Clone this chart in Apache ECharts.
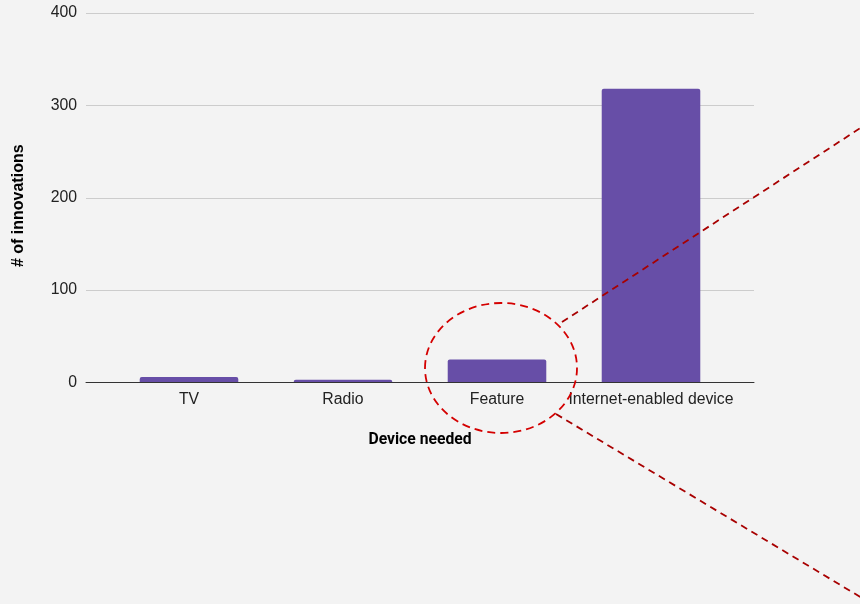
<!DOCTYPE html>
<html>
<head>
<meta charset="utf-8">
<script src="https://cdn.jsdelivr.net/npm/echarts@6/dist/echarts.min.js"></script>
<style>
  html, body { margin: 0; padding: 0; background: #f3f3f3; }
  #chart { width: 860px; height: 604px; }
</style>
</head>
<body>
<div id="chart"></div>
<script>
// Innovations by the device they need
const categories = ['TV', 'Radio', 'Feature', 'Internet-enabled device'];
const innovations = [6, 3, 25, 318];
const yTicks = [0, 100, 200, 300, 400];

const yMin = yTicks[0];
const yMax = yTicks[yTicks.length - 1];
const labelFont = { fontFamily: 'Liberation Sans, Arial', fontSize: 15.8, color: '#222' };

const chart = echarts.init(document.getElementById('chart'));

chart.setOption({
  backgroundColor: '#f3f3f3',
  animation: false,
  // outer grid carries gridlines, baseline and titles; inner grid holds the bars
  grid: [
    { left: 86, right: 106, top: 13, bottom: 221.5 },
    { left: 112, right: 132, top: 13, bottom: 221.5 }
  ],
  xAxis: [
    {
      gridIndex: 0,
      type: 'category',
      data: [''],
      name: 'Device needed',
      nameLocation: 'middle',
      nameGap: 50,
      nameTextStyle: { fontFamily: 'Roboto', fontWeight: 'bold', fontSize: 15.7, color: '#000' },
      axisLine: { lineStyle: { color: '#333', width: 1 } },
      axisTick: { show: false },
      axisLabel: { show: false },
      z: 5
    },
    {
      gridIndex: 1,
      type: 'category',
      data: categories,
      axisLine: { show: false },
      axisTick: { show: false },
      axisLabel: Object.assign({ interval: 0, margin: 9 }, labelFont)
    }
  ],
  yAxis: [
    {
      gridIndex: 0,
      type: 'value',
      min: yMin,
      max: yMax,
      interval: 100,
      name: '# of innovations',
      nameLocation: 'middle',
      nameGap: 59,
      nameTextStyle: {
        fontFamily: 'Liberation Sans, Arial', fontWeight: 'bold', fontSize: 16, color: '#000',
        padding: [0, 16, 0, 0]
      },
      axisLine: { show: false },
      axisTick: { show: false },
      axisLabel: Object.assign({ margin: 9 }, labelFont),
      splitLine: { lineStyle: { color: '#cccccc', width: 1 } }
    },
    {
      gridIndex: 1,
      type: 'value',
      min: yMin,
      max: yMax,
      interval: 100,
      axisLine: { show: false },
      axisTick: { show: false },
      axisLabel: { show: false },
      splitLine: { show: false }
    }
  ],
  series: [{
    type: 'bar',
    xAxisIndex: 1,
    yAxisIndex: 1,
    data: innovations,
    barWidth: '64%',
    itemStyle: { color: '#674ea7', borderRadius: [2, 2, 0, 0] }
  }],
  // dashed call-out around the Feature bar
  graphic: [
    {
      type: 'ellipse',
      shape: { cx: 501, cy: 368, rx: 76, ry: 65 },
      style: { fill: 'none', stroke: '#d40000', lineWidth: 1.8, lineDash: [8, 5] },
      z: 100
    },
    {
      type: 'line',
      shape: { x1: 562, y1: 322, x2: 862, y2: 127 },
      style: { stroke: '#a80000', lineWidth: 1.8, lineDash: [7, 5] },
      z: 100
    },
    {
      type: 'line',
      shape: { x1: 556, y1: 414, x2: 862, y2: 598 },
      style: { stroke: '#a80000', lineWidth: 1.8, lineDash: [7, 5] },
      z: 100
    }
  ]
});
</script>
</body>
</html>
